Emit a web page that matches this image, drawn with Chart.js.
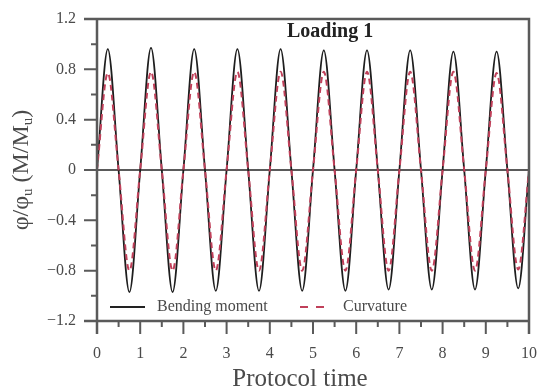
<!DOCTYPE html>
<html>
<head>
<meta charset="utf-8">
<script src="https://cdn.jsdelivr.net/npm/chart.js@4/dist/chart.umd.min.js"></script>
<style>
  html, body { margin: 0; padding: 0; background: #fff; }
  #wrap { width: 537px; height: 392px; }
</style>
</head>
<body>
<div id="wrap"><canvas id="chart" width="537" height="392"></canvas></div>
<script>
// Values: one peak and one trough per loading cycle
const cycleStart = [0, 1, 2, 3, 4, 5, 6, 7, 8, 9];
const momentPeak = [0.96, 0.97, 0.96, 0.96, 0.96, 0.95, 0.95, 0.95, 0.94, 0.94];
const momentTrough = [-0.97, -0.97, -0.96, -0.96, -0.96, -0.96, -0.95, -0.95, -0.95, -0.94];
const curvPeak = [0.77, 0.78, 0.78, 0.78, 0.78, 0.78, 0.78, 0.78, 0.78, 0.77];
const curvTrough = [-0.8, -0.8, -0.8, -0.8, -0.8, -0.8, -0.8, -0.8, -0.8, -0.79];

const xTickLabels = ['0', '1', '2', '3', '4', '5', '6', '7', '8', '9', '10'];
const yTickLabels = ['−1.2', '−0.8', '−0.4', '0', '0.4', '0.8', '1.2'];

const SERIF = '"Liberation Serif", "Times New Roman", serif';
const AXIS = '#5a5a5a';
const TEXT = '#4a4a4a';

// zero - peak - zero - trough for each cycle, then back to zero at the end
const buildSeries = (peaks, troughs) => {
  const pts = [];
  cycleStart.forEach((t, i) => {
    pts.push({ x: t, y: 0 });
    pts.push({ x: t + 0.25, y: peaks[i] });
    pts.push({ x: t + 0.5, y: 0 });
    pts.push({ x: t + 0.75, y: troughs[i] });
  });
  pts.push({ x: cycleStart[cycleStart.length - 1] + 1, y: 0 });
  return pts;
};

// Frame, zero line, minor/major ticks
const framePlugin = {
  id: 'frame',
  beforeDatasetsDraw(chart) {
    const { ctx, chartArea: a, scales: { y } } = chart;
    ctx.save();
    ctx.strokeStyle = AXIS;
    ctx.lineWidth = 2;
    ctx.beginPath();
    ctx.moveTo(a.left - 13, y.getPixelForValue(0));
    ctx.lineTo(a.right, y.getPixelForValue(0));
    ctx.stroke();
    ctx.restore();
  },
  afterDatasetsDraw(chart) {
    const { ctx, chartArea: a, scales: { x, y } } = chart;
    ctx.save();
    ctx.strokeStyle = AXIS;
    ctx.lineWidth = 2.5;
    ctx.beginPath();
    // top border runs out to the 1.2 tick
    ctx.moveTo(a.left - 13, a.top);
    ctx.lineTo(a.right, a.top);
    ctx.lineTo(a.right, a.bottom + 13);
    ctx.moveTo(a.left, a.top);
    ctx.lineTo(a.left, a.bottom + 13);
    ctx.moveTo(a.left - 13, a.bottom);
    ctx.lineTo(a.right, a.bottom);
    ctx.stroke();

    ctx.lineWidth = 2;
    ctx.beginPath();
    for (let i = -6; i <= 6; i++) {
      const py = y.getPixelForValue(i * 0.2);
      const len = i % 2 === 0 ? 13 : 6;
      ctx.moveTo(a.left - len, py);
      ctx.lineTo(a.left, py);
    }
    for (let i = 0; i <= 20; i++) {
      const px = x.getPixelForValue(i * 0.5);
      const len = i % 2 === 0 ? 13 : 6;
      ctx.moveTo(px, a.bottom);
      ctx.lineTo(px, a.bottom + len);
    }
    ctx.stroke();
    ctx.restore();
  },
};

// Title, legend, axis titles (y one with subscripts)
const textPlugin = {
  id: 'texts',
  afterDraw(chart) {
    const { ctx, chartArea: a } = chart;
    ctx.save();
    ctx.fillStyle = '#222';
    ctx.font = 'bold 20px ' + SERIF;
    ctx.textBaseline = 'middle';
    ctx.textAlign = 'left';
    ctx.fillText('Loading 1', 287, 32);

    // legend
    const ly = 307;
    ctx.strokeStyle = '#222';
    ctx.lineWidth = 2;
    ctx.beginPath();
    ctx.moveTo(110, ly);
    ctx.lineTo(145, ly);
    ctx.stroke();
    ctx.strokeStyle = '#c0405a';
    ctx.setLineDash([8, 8]);
    ctx.beginPath();
    ctx.moveTo(300, ly);
    ctx.lineTo(325, ly);
    ctx.stroke();
    ctx.setLineDash([]);
    ctx.fillStyle = TEXT;
    ctx.font = '16px ' + SERIF;
    ctx.fillText('Bending moment', 157, ly);
    ctx.fillText('Curvature', 343, ly);

    // x title
    ctx.textAlign = 'center';
    ctx.font = '25px ' + SERIF;
    ctx.fillText('Protocol time', 300, 379);
    ctx.textAlign = 'left';

    // rotated y title: φ/φu (M/Mu)
    const parts = [
      { t: 'φ/φ', sub: false },
      { t: 'u', sub: true },
      { t: ' (M/M', sub: false },
      { t: 'u', sub: true },
      { t: ')', sub: false },
    ];
    const big = '24px ' + SERIF;
    const small = '15px ' + SERIF;
    let total = 0;
    parts.forEach(p => {
      ctx.font = p.sub ? small : big;
      p.w = ctx.measureText(p.t).width;
      total += p.w;
    });
    ctx.translate(20, (a.top + a.bottom) / 2);
    ctx.rotate(-Math.PI / 2);
    ctx.textBaseline = 'alphabetic';
    let cx = -total / 2;
    parts.forEach(p => {
      ctx.font = p.sub ? small : big;
      ctx.fillText(p.t, cx, p.sub ? 12 : 8);
      cx += p.w;
    });
    ctx.restore();
  },
};

const ctx = document.getElementById('chart').getContext('2d');
new Chart(ctx, {
  type: 'line',
  data: {
    datasets: [
      {
        label: 'Curvature',
        data: buildSeries(curvPeak, curvTrough),
        borderColor: '#c0405a',
        borderWidth: 2,
        borderDash: [6, 4],
        cubicInterpolationMode: 'monotone',
        pointRadius: 0,
        order: 0,
      },
      {
        label: 'Bending moment',
        data: buildSeries(momentPeak, momentTrough),
        borderColor: '#1e1e1e',
        borderWidth: 1.8,
        cubicInterpolationMode: 'monotone',
        pointRadius: 0,
        order: 1,
      },
    ],
  },
  options: {
    responsive: false,
    animation: false,
    layout: { padding: { top: 19, right: 8, left: 0, bottom: 0 } },
    plugins: {
      legend: { display: false },
      tooltip: { enabled: false },
    },
    scales: {
      x: {
        type: 'linear',
        min: 0,
        max: 10,
        afterFit: s => {
          s.height = 71;
          s.paddingLeft = 0;
          s.paddingRight = 0;
        },
        grid: { display: false, drawTicks: false },
        border: { display: false },
        ticks: {
          stepSize: 1,
          padding: 23,
          maxRotation: 0,
          color: TEXT,
          font: { family: SERIF, size: 16 },
          callback: (v) => xTickLabels[Math.round(v)] ?? '',
        },
      },
      y: {
        type: 'linear',
        min: -1.2,
        max: 1.2,
        afterFit: s => {
          s.width = 97;
          s.paddingTop = 0;
          s.paddingBottom = 0;
        },
        grid: { display: false, drawTicks: false },
        border: { display: false },
        ticks: {
          stepSize: 0.4,
          padding: 21,
          color: TEXT,
          font: { family: SERIF, size: 16 },
          callback: (v) => yTickLabels[Math.round((v + 1.2) / 0.4)] ?? '',
        },
      },
    },
  },
  plugins: [framePlugin, textPlugin],
});
</script>
</body>
</html>
